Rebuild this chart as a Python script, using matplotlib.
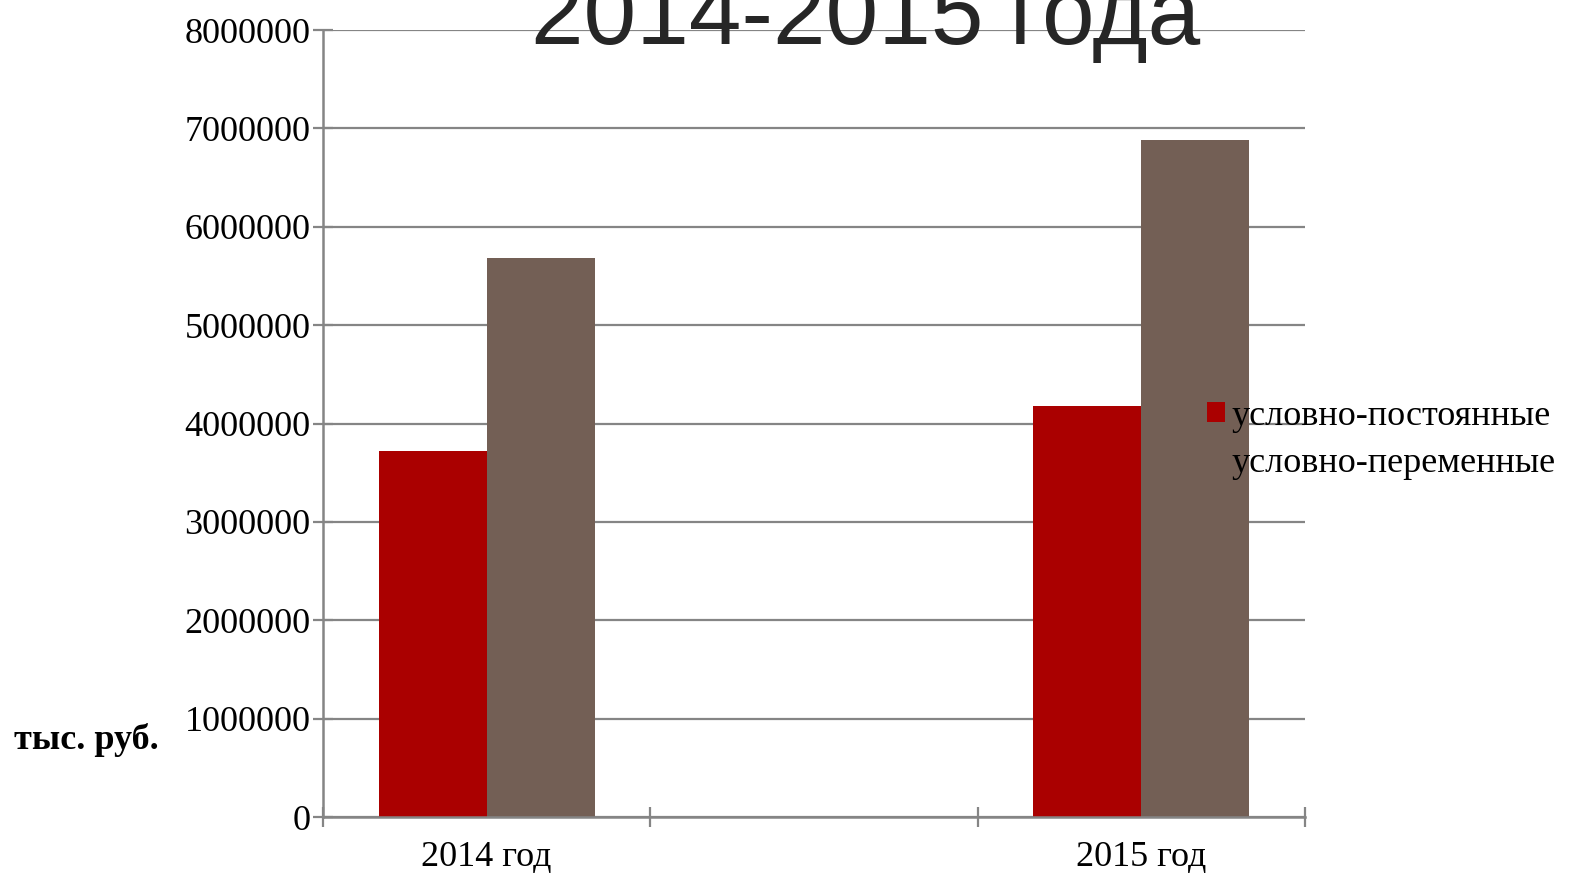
import numpy as np
import matplotlib.pyplot as plt

# data (middle category is an empty slot)
categories = ['2014 год', '', '2015 год']
fixed_costs = [3720000, np.nan, 4180000]
variable_costs = [5680000, np.nan, 6880000]
series_names = ['условно-постоянные', 'условно-переменные']
yticks = np.arange(0, 8000001, 1000000)

serif = ['Liberation Serif', 'DejaVu Serif']
grid_col = '#858585'
fs = 26

fig = plt.figure(figsize=(15.71, 8.73), dpi=100)
ax = fig.add_axes([0.2056, 0.0641, 0.6251, 0.9015])

x = np.arange(len(categories))
w = 0.33
b1 = ax.bar(x - w / 2, fixed_costs, w, color='#AA0000', zorder=3, label=series_names[0])
b2 = ax.bar(x + w / 2, variable_costs, w, color='#735F55', zorder=3, label=series_names[1])

ax.set_xlim(-0.5, len(categories) - 0.5)
ax.set_ylim(0, 8000000)
ax.set_yticks(yticks)
ax.set_yticklabels([str(v) for v in yticks], fontsize=fs, family=serif)
ax.yaxis.grid(True, color=grid_col, linewidth=1.6, zorder=0)
ax.tick_params(axis='y', direction='inout', length=14, width=1.6, color=grid_col, pad=2)

# category boundaries as major ticks, labels on minor ticks
ax.set_xticks(np.arange(len(categories) + 1) - 0.5)
ax.set_xticklabels([])
ax.set_xticks(x, minor=True)
ax.set_xticklabels(categories, minor=True, fontsize=fs, family=serif)
ax.tick_params(axis='x', which='major', direction='inout', length=14, width=1.6, color=grid_col)
ax.tick_params(axis='x', which='minor', length=0, pad=17)

for s in ['top', 'right']:
    ax.spines[s].set_visible(False)
for s in ['left', 'bottom']:
    ax.spines[s].set_color(grid_col)
    ax.spines[s].set_linewidth(1.8)
    ax.spines[s].set_zorder(4)

leg = fig.legend(handles=[b1, b2], loc='center left', bbox_to_anchor=(0.768, 0.496),
                 frameon=False, prop={'family': serif, 'size': fs},
                 handlelength=0.5, handleheight=0.5, handletextpad=0.2,
                 labelspacing=0.4, borderpad=0, borderaxespad=0)
leg.set_zorder(10)

fig.text(0.009, (873 - 740) / 873, 'тыс. руб.', fontsize=fs, fontweight='bold',
         family=serif, va='center', ha='left')

fig.text(866 / 1571, (873 - 44) / 873, '2014-2015 года', fontsize=68,
         family=['Liberation Sans', 'DejaVu Sans'], color='#262626',
         ha='center', va='baseline')

fig.savefig('out.png', dpi=100)
